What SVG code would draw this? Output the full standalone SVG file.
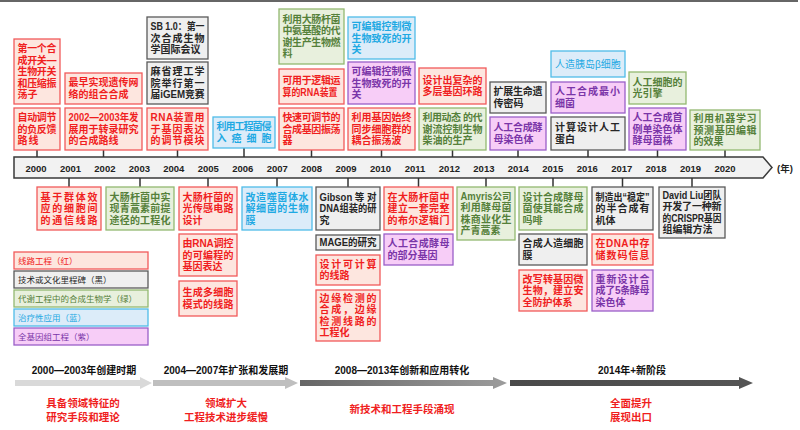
<svg xmlns="http://www.w3.org/2000/svg" width="800" height="430" viewBox="0 0 800 430">
<defs>
<style>
text{font-family:"Liberation Sans","Noto Sans CJK SC",sans-serif;font-size:10px;font-weight:bold}
.bx rect{stroke-width:1.3}
.R rect{fill:#fde6df;stroke:#f15a5a}.R text{fill:#f01e1e}
.K rect{fill:#efefef;stroke:#595959}.K text{fill:#262626}
.G rect{fill:#e8f0dd;stroke:#93b870}.G text{fill:#55803a}
.B rect{fill:#dcecf9;stroke:#4fbce9}.B text{fill:#1fa9e3}
.P rect{fill:#f7cdf7;stroke:#9a5fc8}.P text{fill:#7a35a8}
.yr{font-size:9.5px;fill:#222;text-anchor:middle}
.lg{font-size:8.5px;font-weight:normal}
.ph{font-size:10px;fill:#111;text-anchor:middle}
.rd{font-size:10.5px;fill:#f01e1e;text-anchor:middle}
#conn line{stroke:#333;stroke-width:1.5}
</style>
<linearGradient id="g3" x1="0" x2="1" y1="0" y2="0"><stop offset="0" stop-color="#666"/><stop offset="1" stop-color="#9c9c9c"/></linearGradient>
<linearGradient id="g4" x1="0" x2="1" y1="0" y2="0"><stop offset="0" stop-color="#4a4a4a"/><stop offset="1" stop-color="#555"/></linearGradient>
</defs>
<rect width="800" height="430" fill="#fff"/>
<line x1="0" y1="1" x2="798" y2="1" stroke="#333" stroke-width="1.5"/>

<g id="timeline">
<polygon points="14,157 763,157 772,167.5 763,178 14,178" fill="#f2f2f2" stroke="#3a3a3a" stroke-width="1.5"/>
<text class="yr" x="36" y="171.5">2000</text><text class="yr" x="70.5" y="171.5">2001</text><text class="yr" x="104.9" y="171.5">2002</text><text class="yr" x="139.4" y="171.5">2003</text><text class="yr" x="173.8" y="171.5">2004</text><text class="yr" x="208.3" y="171.5">2005</text><text class="yr" x="242.7" y="171.5">2006</text><text class="yr" x="277.2" y="171.5">2007</text><text class="yr" x="311.6" y="171.5">2008</text><text class="yr" x="346.1" y="171.5">2009</text><text class="yr" x="380.5" y="171.5">2010</text><text class="yr" x="415" y="171.5">2011</text><text class="yr" x="449.4" y="171.5">2012</text><text class="yr" x="483.9" y="171.5">2013</text><text class="yr" x="518.3" y="171.5">2014</text><text class="yr" x="552.8" y="171.5">2015</text><text class="yr" x="587.2" y="171.5">2016</text><text class="yr" x="621.7" y="171.5">2017</text><text class="yr" x="656.1" y="171.5">2018</text><text class="yr" x="690.6" y="171.5">2019</text><text class="yr" x="725" y="171.5">2020</text>
<text x="777" y="171.5" style="font-size:9.5px;fill:#222">(年)</text>
</g>

<g id="conn">
<line x1="37" y1="150" x2="37" y2="157"/><line x1="103.5" y1="150" x2="103.5" y2="157"/><line x1="177.5" y1="150" x2="177.5" y2="157"/><line x1="244" y1="148" x2="244" y2="157"/><line x1="311.5" y1="150" x2="311.5" y2="157"/><line x1="381.5" y1="150" x2="381.5" y2="157"/><line x1="452.5" y1="150" x2="452.5" y2="157"/><line x1="518" y1="150" x2="518" y2="157"/><line x1="588" y1="150" x2="588" y2="157"/><line x1="657.5" y1="150" x2="657.5" y2="157"/><line x1="725" y1="150" x2="725" y2="157"/>
<line x1="69" y1="178" x2="69" y2="187"/><line x1="140" y1="178" x2="140" y2="187"/><line x1="208" y1="178" x2="208" y2="187"/><line x1="277" y1="178" x2="277" y2="187"/><line x1="348" y1="178" x2="348" y2="187"/><line x1="418.5" y1="178" x2="418.5" y2="187"/><line x1="486" y1="178" x2="486" y2="187"/><line x1="553" y1="178" x2="553" y2="187"/><line x1="622.5" y1="178" x2="622.5" y2="187"/><line x1="692" y1="178" x2="692" y2="187"/>
</g>

<g id="n2000a" class="bx R"><rect x="14" y="39" width="46" height="65"/><text><tspan x="17.5" y="52.1" textLength="39">第一个合</tspan><tspan x="17.5" y="63.6" textLength="39">成开关—</tspan><tspan x="17.5" y="75.1" textLength="39">生物开关</tspan><tspan x="17.5" y="86.6" textLength="39">和压缩振</tspan><tspan x="17.5" y="98.1">荡子</tspan></text></g>
<g id="n2000b" class="bx R"><rect x="14" y="108" width="46" height="42"/><text><tspan x="17.5" y="121.1" textLength="39">自动调节</tspan><tspan x="17.5" y="132.6" textLength="39">的负反馈</tspan><tspan x="17.5" y="144.1" textLength="21">路线</tspan></text></g>
<g id="n2002a" class="bx R"><rect x="65" y="73" width="77" height="31"/><text><tspan x="68.5" y="86.4" textLength="70">最早实现遗传网</tspan><tspan x="68.5" y="97.9">络的组合合成</tspan></text></g>
<g id="n2002b" class="bx R"><rect x="65" y="108" width="77" height="42"/><text><tspan x="68.5" y="121.1" textLength="70" lengthAdjust="spacingAndGlyphs">2002—2003年发</tspan><tspan x="68.5" y="132.6" textLength="70">展用于转录研究</tspan><tspan x="68.5" y="144.1">的合成路线</tspan></text></g>
<g id="n2004a" class="bx K"><rect x="147" y="17" width="61" height="42"/><text><tspan x="150.5" y="30.1" textLength="54" lengthAdjust="spacingAndGlyphs">SB 1.0：第一</tspan><tspan x="150.5" y="41.6" textLength="54">次合成生物</tspan><tspan x="150.5" y="53.1">学国际会议</tspan></text></g>
<g id="n2004b" class="bx K"><rect x="147" y="62" width="61" height="42"/><text><tspan x="150.5" y="75.1" textLength="54">麻省理工学</tspan><tspan x="150.5" y="86.6" textLength="54">院举行第一</tspan><tspan x="150.5" y="98.1" textLength="54" lengthAdjust="spacingAndGlyphs">届iGEM竞赛</tspan></text></g>
<g id="n2004c" class="bx R"><rect x="147" y="108" width="61" height="42"/><text><tspan x="150.5" y="121.1" textLength="54">RNA装置用</tspan><tspan x="150.5" y="132.6" textLength="54">于基因表达</tspan><tspan x="150.5" y="144.1" textLength="54">的调节模块</tspan></text></g>
<g id="n2006" class="bx B"><rect x="213" y="117" width="62" height="31"/><text><tspan x="216.5" y="130.4" textLength="55">利用工程菌侵</tspan><tspan x="216.5" y="141.9" textLength="55">入癌细胞</tspan></text></g>
<g id="n2008a" class="bx G"><rect x="279" y="9" width="65" height="55"/><text><tspan x="282.5" y="22.9" textLength="58">利用大肠杆菌</tspan><tspan x="282.5" y="34.4" textLength="58">中氨基酸的代</tspan><tspan x="282.5" y="45.9" textLength="58">谢生产生物燃</tspan><tspan x="282.5" y="57.4">料</tspan></text></g>
<g id="n2008b" class="bx R"><rect x="279" y="69" width="65" height="35"/><text><tspan x="282.5" y="84.4" textLength="58">可用于逻辑运</tspan><tspan x="282.5" y="95.9" textLength="55" lengthAdjust="spacingAndGlyphs">算的RNA装置</tspan></text></g>
<g id="n2008c" class="bx R"><rect x="279" y="108" width="65" height="42"/><text><tspan x="282.5" y="121.1" textLength="58">快速可调节的</tspan><tspan x="282.5" y="132.6" textLength="58">合成基因振荡</tspan><tspan x="282.5" y="144.1">器</tspan></text></g>
<g id="n2010a" class="bx B"><rect x="348" y="17" width="67" height="42"/><text><tspan x="351.5" y="30.1" textLength="60">可编辑控制微</tspan><tspan x="351.5" y="41.6" textLength="60">生物致死的开</tspan><tspan x="351.5" y="53.1">关</tspan></text></g>
<g id="n2010b" class="bx P"><rect x="348" y="62" width="67" height="42"/><text><tspan x="351.5" y="75.1" textLength="60">可编辑控制微</tspan><tspan x="351.5" y="86.6" textLength="60">生物致死的开</tspan><tspan x="351.5" y="98.1">关</tspan></text></g>
<g id="n2010c" class="bx R"><rect x="348" y="108" width="67" height="42"/><text><tspan x="351.5" y="121.1" textLength="60">利用基因始终</tspan><tspan x="351.5" y="132.6" textLength="60">同步细胞群的</tspan><tspan x="351.5" y="144.1">耦合振荡波</tspan></text></g>
<g id="n2012a" class="bx R"><rect x="419" y="68" width="67" height="36"/><text><tspan x="422.5" y="83.9" textLength="60">设计出复杂的</tspan><tspan x="422.5" y="95.4" textLength="60">多层基因环路</tspan></text></g>
<g id="n2012b" class="bx G"><rect x="419" y="108" width="67" height="42"/><text><tspan x="422.5" y="121.1" textLength="60">利用动态 的代</tspan><tspan x="422.5" y="132.6" textLength="60">谢流控制生物</tspan><tspan x="422.5" y="144.1">柴油的生产</tspan></text></g>
<g id="n2014a" class="bx K"><rect x="490" y="82" width="56" height="31"/><text><tspan x="493.5" y="95.4" textLength="49">扩展生命遗</tspan><tspan x="493.5" y="106.9">传密码</tspan></text></g>
<g id="n2014b" class="bx P"><rect x="490" y="117" width="56" height="33"/><text><tspan x="493.5" y="131.4" textLength="49">人工合成酵</tspan><tspan x="493.5" y="142.9">母染色体</tspan></text></g>
<g id="n2016a" class="bx B"><rect x="551" y="51" width="74" height="26"/><text x="588" y="67.6" text-anchor="middle" style="font-weight:normal">人造胰岛β细胞</text></g>
<g id="n2016b" class="bx P"><rect x="551" y="82" width="74" height="31"/><text><tspan x="555" y="95.4" textLength="65">人工合成最小</tspan><tspan x="555" y="106.9">细菌</tspan></text></g>
<g id="n2016c" class="bx K"><rect x="551" y="117" width="74" height="33"/><text><tspan x="555" y="131.4" textLength="65">计算设计人工</tspan><tspan x="555" y="142.9">蛋白</tspan></text></g>
<g id="n2018a" class="bx G"><rect x="629" y="72" width="57" height="32"/><text><tspan x="632.5" y="85.9" textLength="50">人工细胞的</tspan><tspan x="632.5" y="97.4">光引擎</tspan></text></g>
<g id="n2018b" class="bx P"><rect x="629" y="108" width="57" height="42"/><text><tspan x="632.5" y="121.1" textLength="50">人工合成首</tspan><tspan x="632.5" y="132.6" textLength="50">例单染色体</tspan><tspan x="632.5" y="144.1">酵母菌株</tspan></text></g>
<g id="n2020" class="bx G"><rect x="690" y="110" width="70" height="40"/><text><tspan x="693.5" y="122.1" textLength="63">利用机器学习</tspan><tspan x="693.5" y="133.6" textLength="63">预测基因编辑</tspan><tspan x="693.5" y="145.1">的效果</tspan></text></g>

<g id="n2001" class="bx R"><rect x="37" y="187" width="64" height="43"/><text><tspan x="40.5" y="200.6" textLength="57">基于群体效</tspan><tspan x="40.5" y="212.1" textLength="57">应的细胞间</tspan><tspan x="40.5" y="223.6" textLength="57">的通信线路</tspan></text></g>
<g id="n2003" class="bx G"><rect x="106" y="187" width="68" height="43"/><text><tspan x="109.5" y="200.6" textLength="61">大肠杆菌中实</tspan><tspan x="109.5" y="212.1" textLength="61">现青蒿素前提</tspan><tspan x="109.5" y="223.6" textLength="61">途径的工程化</tspan></text></g>
<g id="n2005a" class="bx R"><rect x="179" y="187" width="58" height="43"/><text><tspan x="182.5" y="200.6" textLength="51">大肠杆菌的</tspan><tspan x="182.5" y="212.1" textLength="51">光传感电路</tspan><tspan x="182.5" y="223.6">设计</tspan></text></g>
<g id="n2005b" class="bx R"><rect x="179" y="234" width="58" height="42"/><text><tspan x="182.5" y="247.1" textLength="51">由RNA调控</tspan><tspan x="182.5" y="258.6" textLength="51">的可编程的</tspan><tspan x="182.5" y="270.1">基因表达</tspan></text></g>
<g id="n2005c" class="bx R"><rect x="179" y="281" width="58" height="35"/><text><tspan x="182.5" y="296.4" textLength="51">生成多细胞</tspan><tspan x="182.5" y="307.9" textLength="51">模式的线路</tspan></text></g>
<g id="n2007" class="bx B"><rect x="242" y="187" width="70" height="43"/><text><tspan x="245.5" y="200.6" textLength="63">改造噬菌体水</tspan><tspan x="245.5" y="212.1" textLength="63">解细菌的生物</tspan><tspan x="245.5" y="223.6">膜</tspan></text></g>
<g id="n2009a" class="bx K"><rect x="316" y="187" width="64" height="43"/><text><tspan x="319.5" y="200.6" textLength="57" lengthAdjust="spacingAndGlyphs">Gibson 等 对</tspan><tspan x="319.5" y="212.1" textLength="57" lengthAdjust="spacingAndGlyphs">DNA组装的研</tspan><tspan x="319.5" y="223.6">究</tspan></text></g>
<g id="n2009b" class="bx K"><rect x="316" y="235" width="64" height="15"/><text x="319.5" y="246.1" textLength="57" lengthAdjust="spacingAndGlyphs">MAGE的研究</text></g>
<g id="n2009c" class="bx R"><rect x="316" y="255" width="64" height="30"/><text><tspan x="319.5" y="267.9" textLength="57">设计可计算</tspan><tspan x="319.5" y="279.4">的线路</tspan></text></g>
<g id="n2009d" class="bx R"><rect x="316" y="290" width="64" height="51"/><text><tspan x="319.5" y="301.9" textLength="57">边缘检测的</tspan><tspan x="319.5" y="313.4" textLength="57">合成，边缘</tspan><tspan x="319.5" y="324.9" textLength="57">检测线路的</tspan><tspan x="319.5" y="336.4">工程化</tspan></text></g>
<g id="n2011a" class="bx R"><rect x="384" y="187" width="69" height="43"/><text><tspan x="387.5" y="200.6" textLength="62">在大肠杆菌中</tspan><tspan x="387.5" y="212.1" textLength="62">建立一套完整</tspan><tspan x="387.5" y="223.6" textLength="62">的布尔逻辑门</tspan></text></g>
<g id="n2011b" class="bx P"><rect x="384" y="234" width="69" height="31"/><text><tspan x="387.5" y="247.4" textLength="62">人工合成酵母</tspan><tspan x="387.5" y="258.9">的部分基因</tspan></text></g>
<g id="n2013" class="bx G"><rect x="457" y="187" width="58" height="53"/><text><tspan x="460.5" y="199.9" textLength="51" lengthAdjust="spacingAndGlyphs">Amyris公司</tspan><tspan x="460.5" y="211.4" textLength="51">利用酵母菌</tspan><tspan x="460.5" y="222.9" textLength="51">株商业化生</tspan><tspan x="460.5" y="234.4">产青蒿素</tspan></text></g>
<g id="n2015a" class="bx G"><rect x="519" y="187" width="68" height="43"/><text><tspan x="522.5" y="200.6" textLength="61">设计合成酵母</tspan><tspan x="522.5" y="212.1" textLength="61">菌使其能合成</tspan><tspan x="522.5" y="223.6">吗啡</tspan></text></g>
<g id="n2015b" class="bx K"><rect x="519" y="234" width="68" height="31"/><text><tspan x="522.5" y="247.4" textLength="61">合成人造细胞</tspan><tspan x="522.5" y="258.9">膜</tspan></text></g>
<g id="n2015c" class="bx R"><rect x="519" y="270" width="68" height="41"/><text><tspan x="522.5" y="282.6" textLength="61">改写转基因微</tspan><tspan x="522.5" y="294.1" textLength="61">生物，建立安</tspan><tspan x="522.5" y="305.6">全防护体系</tspan></text></g>
<g id="n2017a" class="bx K"><rect x="592" y="187" width="61" height="43"/><text><tspan x="595.5" y="200.6" textLength="54" lengthAdjust="spacingAndGlyphs">制造出“稳定”</tspan><tspan x="595.5" y="212.1" textLength="54">的半合成有</tspan><tspan x="595.5" y="223.6">机体</tspan></text></g>
<g id="n2017b" class="bx R"><rect x="592" y="234" width="61" height="31"/><text><tspan x="595.5" y="247.4" textLength="54">在DNA中存</tspan><tspan x="595.5" y="258.9" textLength="54">储数码信息</tspan></text></g>
<g id="n2017c" class="bx P"><rect x="592" y="270" width="61" height="41"/><text><tspan x="595.5" y="282.6" textLength="54">重新设计合</tspan><tspan x="595.5" y="294.1" textLength="54">成了5条酵母</tspan><tspan x="595.5" y="305.6">染色体</tspan></text></g>
<g id="n2019" class="bx K"><rect x="659" y="187" width="66" height="51"/><text><tspan x="662.5" y="198.9" textLength="59" lengthAdjust="spacingAndGlyphs">David  Liu团队</tspan><tspan x="662.5" y="210.4" textLength="59">开发了一种新</tspan><tspan x="662.5" y="221.9" textLength="59" lengthAdjust="spacingAndGlyphs">的CRISPR基因</tspan><tspan x="662.5" y="233.4">组编辑方法</tspan></text></g>

<g id="legend">
<g class="bx R"><rect x="14" y="252" width="134" height="17"/><text class="lg" x="18" y="264">线路工程（红）</text></g>
<g class="bx K"><rect x="14" y="271" width="134" height="17"/><text class="lg" x="18" y="283">技术或文化里程碑（黑）</text></g>
<g class="bx G"><rect x="14" y="290" width="134" height="17"/><text class="lg" x="18" y="302">代谢工程中的合成生物学（绿）</text></g>
<g class="bx B"><rect x="14" y="309" width="134" height="17"/><text class="lg" x="18" y="321">治疗性应用（蓝）</text></g>
<g class="bx P"><rect x="14" y="328" width="134" height="17"/><text class="lg" x="18" y="340">全基因组工程（紫）</text></g>
</g>

<g id="phases">
<polygon points="15,380 140,380 140,377 152,383 140,389 140,386 15,386" fill="#d9d9d9"/>
<polygon points="153,380 285,380 285,377 298,383 285,389 285,386 153,386" fill="#bfbfbf"/>
<polygon points="300,380 493,380 493,377 507,383 493,389 493,386 300,386" fill="url(#g3)"/>
<polygon points="510,380 739,380 739,377 753,383 739,389 739,386 510,386" fill="url(#g4)"/>
<text class="ph" x="84" y="373.5">2000—2003年创建时期</text>
<text class="ph" x="226" y="373.5">2004—2007年扩张和发展期</text>
<text class="ph" x="402" y="373.5">2008—2013年创新和应用转化</text>
<text class="ph" x="632" y="373.5">2014年+新阶段</text>
<text class="rd" x="83" y="407">具备领域特征的</text>
<text class="rd" x="83" y="421">研究手段和理论</text>
<text class="rd" x="226" y="407">领域扩大</text>
<text class="rd" x="226" y="421">工程技术进步缓慢</text>
<text class="rd" x="402" y="413">新技术和工程手段涌现</text>
<text class="rd" x="631" y="407">全面提升</text>
<text class="rd" x="631" y="421">展现出口</text>
</g>
</svg>
